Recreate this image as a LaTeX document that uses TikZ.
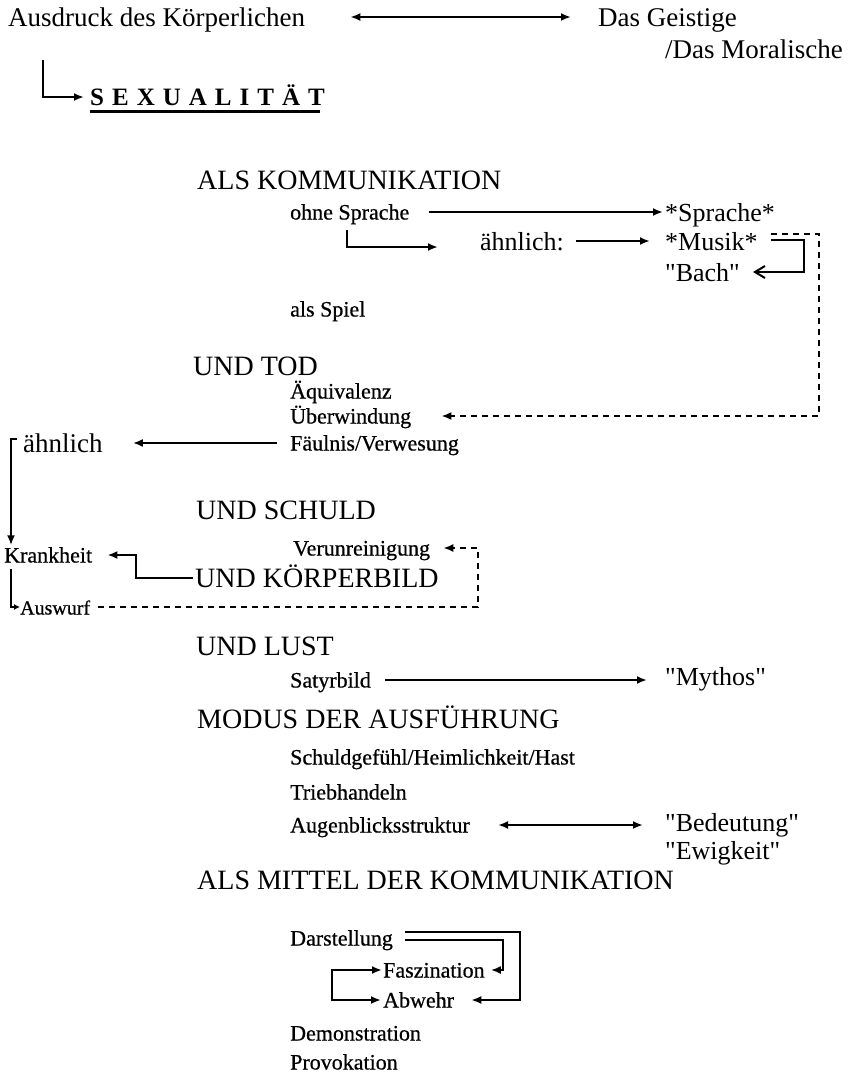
\documentclass[tikz,border=0pt]{standalone}
\usepackage{fontspec}
\setmainfont{Liberation Serif}
\newfontfamily\geradefont{Liberation Serif}[Ligatures=TeXOff]
\newfontfamily\sperrfont{Liberation Serif}[LetterSpace=32]
\newfontfamily\kleinfont{Liberation Serif}[FakeBold=0.6]
\usetikzlibrary{arrows.meta}

\begin{document}
\begin{tikzpicture}[x=1pt,y=-1pt,
  gr/.style={font=\fontsize{27}{30}\selectfont,inner sep=0pt,anchor=west,text height=18pt,text depth=0pt},
  hd/.style={gr,font=\fontsize{28}{30}\selectfont},
  rt/.style={gr,font=\geradefont\fontsize{26}{30}\selectfont},
  kl/.style={font=\kleinfont\fontsize{22}{26}\selectfont,inner sep=0pt,anchor=west,text height=15pt,text depth=0pt},
  pf/.style={line width=2pt,-{Latex[length=10pt,width=8pt]}},
  dpf/.style={line width=2pt,{Latex[length=10pt,width=8pt]}-{Latex[length=10pt,width=8pt]}},
  dl/.style={pf,dash pattern=on 6pt off 5pt}]
\path[fill=white] (0,0) rectangle (852,1074);
% oben
\node[gr] (ausdruck) at (8,17) {Ausdruck des Körperlichen};
\node[gr] (geistige) at (598,17) {Das Geistige};
\node[gr,anchor=east] (moral) at (843,49) {/Das Moralische};
\node[kl,font=\sperrfont\fontsize{25}{28}\selectfont\bfseries,text height=17pt] (sexual) at (90,97) {SEXUALITÄT};
\draw[dpf] ([xshift=45pt]ausdruck.east) -- ([xshift=-27pt]geistige.west);
\draw[pf] ([xshift=35pt,yshift=-34pt]ausdruck.south west) |- ([xshift=-6pt]sexual.west);
\draw[line width=2.6pt] ([yshift=-6pt]sexual.south west) -- ([xshift=-5pt,yshift=-6pt]sexual.south east);
% Kommunikation
\node[hd] (kommu) at (197,180) {ALS KOMMUNIKATION};
\node[kl] (ohne) at (290,212) {ohne Sprache};
\node[rt] (sprache) at (665,212) {*Sprache*};
\node[rt] (aehnlich) at (480,241) {ähnlich:};
\node[rt] (musik) at (665,241) {*Musik*};
\node[rt] (bach) at (665,272) {"Bach"};
\node[kl] (spiel) at (290,309) {als Spiel};
\draw[pf] ([xshift=19pt]ohne.east) -- ([xshift=-2pt]sprache.west);
\draw[pf] ([xshift=57pt,yshift=-10pt]ohne.south west) |- ([xshift=-42pt,yshift=-6pt]aehnlich.west);
\draw[pf] ([xshift=12pt]aehnlich.east) -- ([xshift=-15pt]musik.west);
\draw[line width=2pt,-{Straight Barb[length=10pt,width=12pt]}] ([xshift=13pt,yshift=1pt]musik.east) -- ++(33,0) |- ([xshift=13pt]bach.east);
% Tod
\node[hd] (tod) at (193,366) {UND TOD};
\node[kl] (aequiv) at (290,391) {Äquivalenz};
\node[kl] (ueberw) at (290,416) {Überwindung};
\node[kl] (faeulnis) at (290,443) {Fäulnis/Verwesung};
\node[gr] (aehnlich2) at (23,443) {ähnlich};
\draw[dl] ([xshift=13pt,yshift=7pt]musik.east) -- ++(48,0) |- ([xshift=30pt]ueberw.east);
\draw[pf] ([xshift=-13pt]faeulnis.west) -- ([xshift=30pt]aehnlich2.east);
% Schuld
\node[hd] (schuld) at (196,510) {UND SCHULD};
\node[kl] (verunr) at (293,548) {Verunreinigung};
\node[kl] (krank) at (4,555) {Krankheit};
\node[hd] (koerper) at (195,578) {UND KÖRPERBILD};
\node[kl,font=\kleinfont\fontsize{20}{24}\selectfont] (auswurf) at (20,607) {Auswurf};
\draw[pf] ([xshift=-6pt,yshift=4pt]aehnlich2.west) -| ([xshift=7pt,yshift=2pt]krank.north west);
\draw[line width=2pt,-{Latex[length=6pt,width=6pt]}] ([xshift=7pt,yshift=-6pt]krank.south west) |- (auswurf.west);
\draw[pf] ([xshift=-2pt]koerper.west) -- ++(-57,0) |- ([xshift=15pt]krank.east);
\draw[dl] ([xshift=8pt]auswurf.east) -| ([xshift=48pt]verunr.east) -- ([xshift=13pt]verunr.east);
% Lust, Modus
\node[hd] (lust) at (196,646) {UND LUST};
\node[kl] (satyr) at (290,680) {Satyrbild};
\node[rt] (mythos) at (665,676) {"Mythos"};
\draw[pf] ([xshift=14pt]satyr.east) -- ([xshift=-18pt]mythos.west |- satyr.east);
\node[hd] (modus) at (197,719) {MODUS DER AUSFÜHRUNG};
\node[kl] (schuldgef) at (290,757) {Schuldgefühl/Heimlichkeit/Hast};
\node[kl] (trieb) at (290,792) {Triebhandeln};
\node[kl] (augenbl) at (290,825) {Augenblicksstruktur};
\node[rt] (bedeut) at (665,822) {"Bedeutung"};
\node[rt] (ewig) at (665,850) {"Ewigkeit"};
\draw[dpf] ([xshift=28pt]augenbl.east) -- ([xshift=-22pt]bedeut.west |- augenbl.east);
% Mittel
\node[hd] (mittel) at (197,880) {ALS MITTEL DER KOMMUNIKATION};
\node[kl] (darst) at (290,938) {Darstellung};
\node[kl] (faszin) at (383,970) {Faszination};
\node[kl] (abwehr) at (383,1000) {Abwehr};
\node[kl] (demo) at (290,1033) {Demonstration};
\node[kl] (provok) at (290,1062) {Provokation};
\draw[pf] ([xshift=12pt,yshift=6pt]darst.east) -- ++(115,0) |- ([xshift=17pt]abwehr.east);
\draw[pf] ([xshift=12pt,yshift=-2pt]darst.east) -- ++(98,0) |- ([xshift=6pt]faszin.east);
\draw[dpf] ([xshift=-1pt]faszin.west) -- ++(-50,0) |- ([xshift=-2pt]abwehr.west);
\end{tikzpicture}
\end{document}
